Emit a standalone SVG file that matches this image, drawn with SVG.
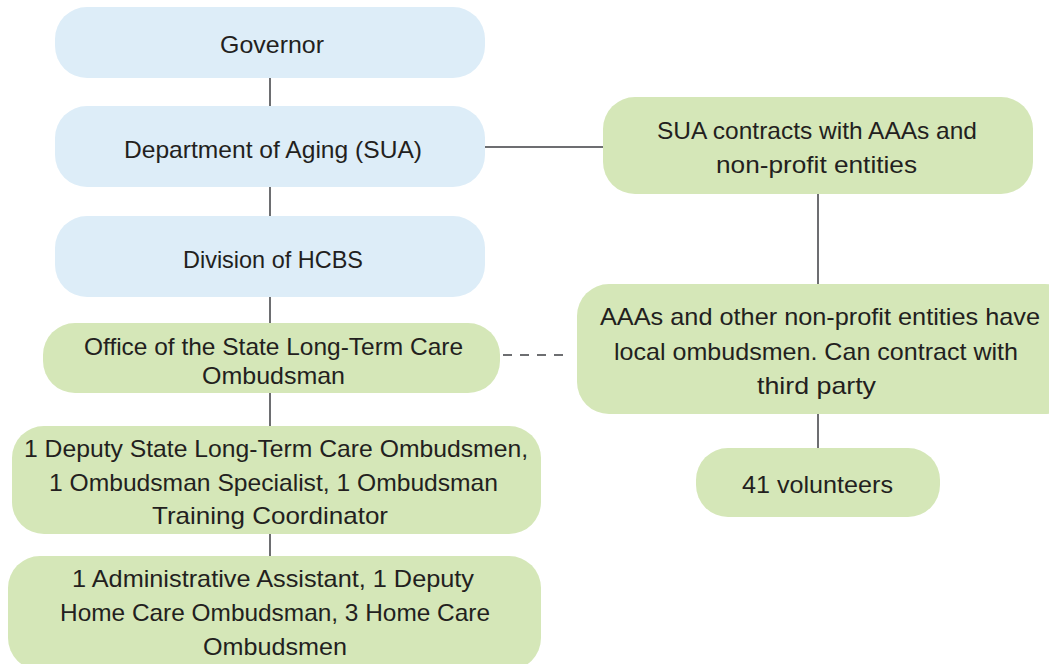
<svg xmlns="http://www.w3.org/2000/svg" width="1049" height="664" viewBox="0 0 1049 664">
<style>
.blue{fill:#ddedf8}
.green{fill:#d5e7b8}
.t{font-family:"Liberation Sans",Arial,sans-serif;font-size:24px;fill:#231f20;text-anchor:middle}
.c{stroke:#6d6e71;stroke-width:2;fill:none}
.d{stroke:#6d6e71;stroke-width:2;fill:none;stroke-dasharray:9 8}
</style>
<rect width="1049" height="664" fill="#ffffff"/>
<g id="connectors">
<line class="c" x1="270" y1="78" x2="270" y2="107"/>
<line class="c" x1="270" y1="187" x2="270" y2="216"/>
<line class="c" x1="270" y1="297" x2="270" y2="323"/>
<line class="c" x1="270" y1="393" x2="270" y2="426"/>
<line class="c" x1="270" y1="534" x2="270" y2="556"/>
<line class="c" x1="485" y1="147" x2="603" y2="147"/>
<line class="c" x1="818" y1="194" x2="818" y2="284"/>
<line class="c" x1="818" y1="414" x2="818" y2="448"/>
<line class="d" x1="503" y1="355" x2="568" y2="355"/>
</g>
<g id="governor">
<rect class="blue" x="55" y="7" width="430" height="71" rx="32"/>
<text class="t" x="272" y="53" textLength="104" lengthAdjust="spacingAndGlyphs">Governor</text>
</g>
<g id="dept">
<rect class="blue" x="55" y="106" width="430" height="81" rx="32"/>
<text class="t" x="273" y="158" textLength="298" lengthAdjust="spacingAndGlyphs">Department of Aging (SUA)</text>
</g>
<g id="division">
<rect class="blue" x="55" y="216" width="430" height="81" rx="32"/>
<text class="t" x="273" y="268" textLength="180" lengthAdjust="spacingAndGlyphs">Division of HCBS</text>
</g>
<g id="office">
<rect class="green" x="43" y="323" width="457" height="70" rx="32"/>
<text class="t" x="273.5" y="355" textLength="379" lengthAdjust="spacingAndGlyphs">Office of the State Long-Term Care</text>
<text class="t" x="273.5" y="384" textLength="143" lengthAdjust="spacingAndGlyphs">Ombudsman</text>
</g>
<g id="deputy">
<rect class="green" x="12" y="426" width="529" height="108" rx="32"/>
<text class="t" x="276" y="457" textLength="504" lengthAdjust="spacingAndGlyphs">1 Deputy State Long-Term Care Ombudsmen,</text>
<text class="t" x="273.5" y="491" textLength="449" lengthAdjust="spacingAndGlyphs">1 Ombudsman Specialist, 1 Ombudsman</text>
<text class="t" x="270" y="524" textLength="236" lengthAdjust="spacingAndGlyphs">Training Coordinator</text>
</g>
<g id="admin">
<rect class="green" x="8" y="556" width="533" height="114" rx="32"/>
<text class="t" x="273" y="587" textLength="402" lengthAdjust="spacingAndGlyphs">1 Administrative Assistant, 1 Deputy</text>
<text class="t" x="275" y="621" textLength="430" lengthAdjust="spacingAndGlyphs">Home Care Ombudsman, 3 Home Care</text>
<text class="t" x="275" y="655" textLength="144" lengthAdjust="spacingAndGlyphs">Ombudsmen</text>
</g>
<g id="sua">
<rect class="green" x="603" y="97" width="430" height="97" rx="32"/>
<text class="t" x="817" y="139" textLength="320" lengthAdjust="spacingAndGlyphs">SUA contracts with AAAs and</text>
<text class="t" x="816.5" y="173" textLength="201" lengthAdjust="spacingAndGlyphs">non-profit entities</text>
</g>
<g id="aaas">
<rect class="green" x="577" y="284" width="500" height="130" rx="32"/>
<text class="t" x="820" y="325" textLength="440" lengthAdjust="spacingAndGlyphs">AAAs and other non-profit entities have</text>
<text class="t" x="816" y="360" textLength="404" lengthAdjust="spacingAndGlyphs">local ombudsmen. Can contract with</text>
<text class="t" x="816.5" y="394" textLength="119" lengthAdjust="spacingAndGlyphs">third party</text>
</g>
<g id="volunteers">
<rect class="green" x="696" y="448" width="244" height="69" rx="32"/>
<text class="t" x="817.5" y="493" textLength="151" lengthAdjust="spacingAndGlyphs">41 volunteers</text>
</g>
</svg>
